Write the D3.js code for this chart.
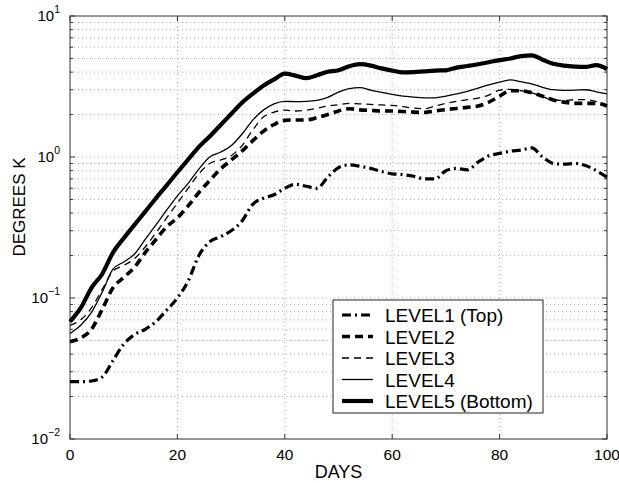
<!DOCTYPE html>
<html>
<head>
<meta charset="utf-8">
<script src="https://cdn.jsdelivr.net/npm/d3@7"></script>
<style>
  body { margin: 0; background: #fff; }
  svg { font-family: "Liberation Sans", Arial, sans-serif; }
</style>
</head>
<body>
<script>
// data
var days = [0,2,4,6,8,10,12,14,16,18,20,22,24,26,28,30,32,34,36,38,40,42,44,46,48,50,
            52,54,56,58,60,62,64,66,68,70,72,74,76,78,80,82,84,86,88,90,92,94,96,98,100];
var level1 = [0.0255,0.0255,0.0258,0.0275,0.036,0.047,0.055,0.06,0.068,0.082,0.1,0.132,0.2,0.25,0.272,0.3,0.35,0.46,0.51,0.54,0.6,0.64,0.62,0.6,0.72,0.84,
              0.88,0.86,0.83,0.79,0.76,0.75,0.73,0.7,0.7,0.8,0.83,0.81,0.92,1.02,1.06,1.1,1.12,1.16,1.0,0.9,0.89,0.9,0.87,0.8,0.72];
var level2 = [0.049,0.052,0.06,0.083,0.118,0.14,0.165,0.21,0.26,0.32,0.37,0.45,0.56,0.68,0.82,0.95,1.1,1.3,1.52,1.7,1.82,1.83,1.83,1.9,2.0,2.12,
              2.2,2.16,2.14,2.12,2.12,2.1,2.08,2.07,2.12,2.17,2.21,2.25,2.3,2.45,2.7,2.95,2.95,2.85,2.7,2.54,2.45,2.4,2.4,2.4,2.3];
var level3 = [0.064,0.07,0.085,0.115,0.155,0.17,0.19,0.23,0.29,0.37,0.47,0.6,0.76,0.9,0.95,1.02,1.2,1.55,1.92,2.08,2.15,2.12,2.15,2.22,2.3,2.35,
              2.4,2.38,2.36,2.34,2.32,2.28,2.22,2.2,2.3,2.4,2.48,2.55,2.62,2.75,2.98,3.02,2.95,2.85,2.68,2.54,2.52,2.55,2.55,2.47,2.34];
var level4 = [0.056,0.064,0.079,0.11,0.16,0.18,0.205,0.26,0.33,0.42,0.53,0.65,0.82,1.0,1.08,1.2,1.45,1.82,2.15,2.38,2.48,2.47,2.48,2.52,2.65,2.88,
              3.05,3.1,2.98,2.87,2.78,2.7,2.66,2.63,2.63,2.7,2.8,2.92,3.08,3.25,3.4,3.52,3.42,3.3,3.12,3.0,2.97,2.98,3.0,2.9,2.8];
var level5 = [0.068,0.085,0.118,0.148,0.21,0.265,0.33,0.41,0.51,0.63,0.78,0.96,1.18,1.4,1.68,2.02,2.42,2.8,3.2,3.55,3.9,3.78,3.62,3.8,4.02,4.12,
              4.4,4.55,4.45,4.25,4.1,3.98,4.0,4.05,4.1,4.12,4.3,4.42,4.55,4.7,4.87,5.0,5.2,5.25,4.9,4.58,4.45,4.38,4.35,4.48,4.2];
var seriesNames = ["LEVEL1 (Top)", "LEVEL2", "LEVEL3", "LEVEL4", "LEVEL5 (Bottom)"];
var xTicks = [0, 20, 40, 60, 80, 100];
var yDecades = [0.01, 0.1, 1, 10];
var yExponents = ["-2", "-1", "0", "1"];

var width = 619, height = 483;
var margin = {left: 70, right: 12, top: 16, bottom: 44};

var svg = d3.select("body").append("svg")
    .attr("width", width)
    .attr("height", height);

var x = d3.scaleLinear().domain([0, 100]).range([margin.left, width - margin.right]);
var y = d3.scaleLog().domain([0.01, 10]).range([height - margin.bottom, margin.top]);

var x0 = x.range()[0], x1 = x.range()[1], y0 = y.range()[0], y1 = y.range()[1];

// minor values for log grid (2..9 in each decade)
var minors = [];
[0.01, 0.1, 1].forEach(function (dec) {
    for (var k = 2; k <= 9; k++) minors.push(dec * k);
});

var grid = svg.append("g")
    .attr("stroke", "#9a9a9a")
    .attr("stroke-width", 0.8)
    .attr("stroke-dasharray", "1,3");

grid.selectAll(null).data(minors.concat([0.1, 1])).enter().append("line")
    .attr("x1", x0).attr("x2", x1)
    .attr("y1", function (d) { return y(d); })
    .attr("y2", function (d) { return y(d); });

grid.selectAll(null).data(xTicks.slice(1, -1)).enter().append("line")
    .attr("y1", y0).attr("y2", y1)
    .attr("x1", function (d) { return x(d); })
    .attr("x2", function (d) { return x(d); });

// axes frame + ticks
var axisColor = "#333";
svg.append("rect")
    .attr("x", x0).attr("y", y1)
    .attr("width", x1 - x0).attr("height", y0 - y1)
    .attr("fill", "none").attr("stroke", axisColor).attr("stroke-width", 1);

var ticks = svg.append("g").attr("stroke", axisColor).attr("stroke-width", 1);
xTicks.forEach(function (t) {
    ticks.append("line").attr("x1", x(t)).attr("x2", x(t)).attr("y1", y0).attr("y2", y0 - 5);
    ticks.append("line").attr("x1", x(t)).attr("x2", x(t)).attr("y1", y1).attr("y2", y1 + 5);
});
yDecades.forEach(function (t) {
    ticks.append("line").attr("x1", x0).attr("x2", x0 + 5).attr("y1", y(t)).attr("y2", y(t));
    ticks.append("line").attr("x1", x1).attr("x2", x1 - 5).attr("y1", y(t)).attr("y2", y(t));
});
minors.forEach(function (t) {
    ticks.append("line").attr("x1", x0).attr("x2", x0 + 3).attr("y1", y(t)).attr("y2", y(t));
    ticks.append("line").attr("x1", x1).attr("x2", x1 - 3).attr("y1", y(t)).attr("y2", y(t));
});

// tick labels
svg.selectAll(".xl").data(xTicks).enter().append("text")
    .attr("x", function (d) { return x(d); })
    .attr("y", y0 + 21)
    .attr("text-anchor", "middle")
    .attr("font-size", 15.5)
    .text(function (d) { return d; });

yDecades.forEach(function (d, i) {
    var t = svg.append("text")
        .attr("x", x0 - 10)
        .attr("y", y(d) + 5)
        .attr("text-anchor", "end")
        .attr("font-size", 15);
    t.append("tspan").text("10");
    t.append("tspan").attr("dy", -8).attr("font-size", 10.5).text(yExponents[i].replace("-", "\u2212"));
});

// axis titles
svg.append("text")
    .attr("x", (x0 + x1) / 2).attr("y", 478)
    .attr("text-anchor", "middle").attr("font-size", 18)
    .text("DAYS");
svg.append("text")
    .attr("transform", "translate(25,207) rotate(-90)")
    .attr("text-anchor", "middle").attr("font-size", 17)
    .text("DEGREES K");

// series
var styles = [
    {w: 3.2, dash: "9,4,2,4"},
    {w: 3.6, dash: "8,5"},
    {w: 1.3, dash: "7,5"},
    {w: 1.3, dash: null},
    {w: 4.2, dash: null}
];
var allSeries = [level1, level2, level3, level4, level5];

var line = d3.line()
    .x(function (d) { return x(d[0]); })
    .y(function (d) { return y(d[1]); })
    .curve(d3.curveMonotoneX);

allSeries.forEach(function (vals, i) {
    svg.append("path")
        .datum(days.map(function (d, j) { return [d, vals[j]]; }))
        .attr("fill", "none")
        .attr("stroke", "#000")
        .attr("stroke-width", styles[i].w)
        .attr("stroke-dasharray", styles[i].dash)
        .attr("stroke-linejoin", "round")
        .attr("d", line);
});

// legend
var lg = svg.append("g").attr("transform", "translate(333,300)");
lg.append("rect")
    .attr("width", 210).attr("height", 113)
    .attr("fill", "#fff").attr("stroke", "#222").attr("stroke-width", 1);
seriesNames.forEach(function (name, i) {
    var yy = 15 + i * 21.5;
    lg.append("line")
        .attr("x1", 9).attr("x2", 40).attr("y1", yy).attr("y2", yy)
        .attr("stroke", "#000")
        .attr("stroke-width", styles[i].w)
        .attr("stroke-dasharray", styles[i].dash);
    lg.append("text")
        .attr("x", 52).attr("y", yy + 7)
        .attr("font-size", 19)
        .text(name);
});
</script>
</body>
</html>
